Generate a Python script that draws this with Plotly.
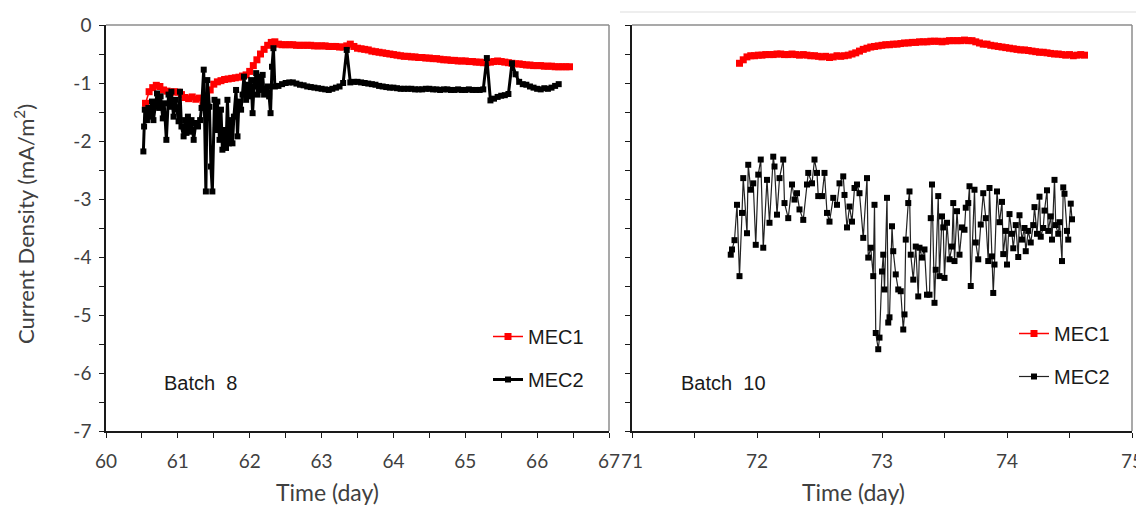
import plotly.graph_objects as go

# ---------------- data ----------------
# Batch 8 (left panel)
b8_mec1_t0, b8_mec1_dt = 60.55, 0.05
b8_mec1 = [-1.35, -1.15, -1.08, -1.04, -1.06, -1.12, -1.14, -1.16, -1.15, -1.16,
           -1.20, -1.25, -1.27, -1.24, -1.28, -1.26, -1.38, -1.22, -1.12, -1.02,
           -0.98, -0.96, -0.94, -0.93, -0.92, -0.91, -0.90, -0.88, -0.86, -0.80,
           -0.70, -0.60, -0.50, -0.42, -0.35, -0.30, -0.29, -0.33, -0.34, -0.34,
           -0.34, -0.34, -0.35, -0.35, -0.35, -0.35, -0.35, -0.36, -0.36, -0.36,
           -0.36, -0.37, -0.37, -0.37, -0.38, -0.38, -0.36, -0.33, -0.37, -0.40,
           -0.41, -0.42, -0.43, -0.45, -0.46, -0.47, -0.48, -0.49, -0.50, -0.51,
           -0.52, -0.53, -0.54, -0.54, -0.55, -0.55, -0.56, -0.56, -0.57, -0.57,
           -0.58, -0.58, -0.59, -0.60, -0.60, -0.61, -0.61, -0.62, -0.62, -0.62,
           -0.63, -0.63, -0.64, -0.64, -0.65, -0.65, -0.64, -0.63, -0.62, -0.63,
           -0.64, -0.65, -0.66, -0.67, -0.67, -0.68, -0.69, -0.69, -0.70, -0.70,
           -0.70, -0.71, -0.71, -0.71, -0.72, -0.72, -0.72, -0.72, -0.72]

b8_mec2_noisy_t = [60.52, 60.53, 60.54, 60.57, 60.59, 60.61, 60.64, 60.66, 60.68, 60.71,
                   60.74, 60.76, 60.79, 60.81, 60.84, 60.87, 60.89, 60.91, 60.94, 60.97,
                   61.01, 61.03, 61.05, 61.08, 61.10, 61.12, 61.14, 61.17, 61.19, 61.22,
                   61.25, 61.28, 61.31, 61.33, 61.36, 61.39, 61.41, 61.44, 61.46, 61.48,
                   61.51, 61.53, 61.55, 61.58, 61.60, 61.62, 61.65, 61.67, 61.69, 61.71,
                   61.74, 61.76, 61.78, 61.81, 61.83, 61.85, 61.88, 61.90, 61.92, 61.95,
                   61.97, 61.99, 62.02, 62.04, 62.06, 62.09, 62.11, 62.13, 62.16, 62.18,
                   62.20, 62.23, 62.25, 62.27, 62.29, 62.31, 62.33, 62.35]
b8_mec2_noisy = [-2.18, -1.75, -1.46, -1.64, -1.43, -1.58, -1.32, -1.64, -1.41, -1.18,
                 -1.43, -1.23, -1.61, -1.35, -1.98, -1.20, -1.41, -1.15, -1.58, -1.29,
                 -1.66, -1.15, -1.75, -1.92, -1.64, -1.86, -1.58, -1.84, -1.64, -1.98,
                 -1.69, -1.75, -1.64, -1.43, -0.77, -2.87, -0.95, -1.41, -2.44, -2.87,
                 -1.29, -1.81, -1.32, -1.98, -1.46, -2.15, -1.81, -2.12, -1.29, -2.04,
                 -1.64, -2.04, -1.58, -1.12, -1.92, -1.32, -1.46, -1.20, -0.89, -1.29,
                 -1.03, -1.23, -0.95, -1.52, -1.06, -0.83, -1.20, -0.89, -1.12, -0.86,
                 -1.20, -1.15, -1.06, -1.23, -1.52, -0.72, -0.40, -1.06]
b8_mec2_smooth_t0, b8_mec2_smooth_dt = 62.40, 0.05
b8_mec2_smooth = [-1.05, -1.02, -1.00, -0.99, -0.99, -1.01, -1.03, -1.04, -1.06, -1.07,
                  -1.08, -1.09, -1.10, -1.11, -1.12, -1.10, -1.08, -1.06, -1.00, -0.43,
                  -0.99, -0.98, -0.98, -0.99, -1.00, -1.01, -1.02, -1.03, -1.05, -1.06,
                  -1.07, -1.08, -1.08, -1.09, -1.10, -1.10, -1.10, -1.10, -1.11, -1.11,
                  -1.11, -1.10, -1.10, -1.11, -1.11, -1.12, -1.11, -1.11, -1.12, -1.12,
                  -1.11, -1.12, -1.12, -1.11, -1.12, -1.12, -1.12, -1.11, -0.57, -1.30,
                  -1.27, -1.24, -1.22, -1.21, -1.19, -0.66, -0.85, -0.98, -1.02, -1.03,
                  -1.06, -1.08, -1.10, -1.11, -1.09, -1.10, -1.08, -1.05, -1.02]

# Batch 10 (right panel)
b10_mec1_t0, b10_mec1_dt = 71.86, 0.03
b10_mec1 = [-0.66, -0.60, -0.55, -0.53, -0.53, -0.52, -0.52, -0.51, -0.51, -0.51,
            -0.50, -0.50, -0.51, -0.51, -0.50, -0.51, -0.52, -0.51, -0.52, -0.53,
            -0.53, -0.54, -0.55, -0.54, -0.56, -0.55, -0.53, -0.54, -0.53, -0.52,
            -0.50, -0.48, -0.45, -0.42, -0.40, -0.38, -0.37, -0.36, -0.35, -0.34,
            -0.34, -0.33, -0.33, -0.32, -0.31, -0.31, -0.30, -0.30, -0.29, -0.29,
            -0.29, -0.28, -0.28, -0.28, -0.29, -0.28, -0.27, -0.27, -0.27, -0.27,
            -0.26, -0.27, -0.27, -0.29, -0.31, -0.33, -0.33, -0.35, -0.36, -0.37,
            -0.38, -0.39, -0.40, -0.41, -0.42, -0.43, -0.43, -0.44, -0.45, -0.46,
            -0.47, -0.47, -0.48, -0.49, -0.50, -0.50, -0.51, -0.52, -0.51, -0.53,
            -0.52, -0.51, -0.52]

b10_mec2_t = [71.79, 71.80, 71.82, 71.84, 71.86, 71.88, 71.89, 71.92, 71.93, 71.95,
              71.97, 71.99, 72.01, 72.03, 72.05, 72.08, 72.10, 72.13, 72.14, 72.16,
              72.18, 72.21, 72.22, 72.25, 72.28, 72.30, 72.32, 72.34, 72.37, 72.40,
              72.41, 72.44, 72.46, 72.48, 72.49, 72.52, 72.54, 72.56, 72.58, 72.61,
              72.64, 72.66, 72.69, 72.70, 72.72, 72.74, 72.76, 72.78, 72.80, 72.82,
              72.85, 72.88, 72.89, 72.91, 72.93, 72.94, 72.95, 72.97, 72.98, 73.00,
              73.01, 73.02, 73.04, 73.05, 73.06, 73.08, 73.09, 73.11, 73.13, 73.15,
              73.17, 73.18, 73.19, 73.21, 73.22, 73.23, 73.25, 73.27, 73.29, 73.30,
              73.32, 73.34, 73.36, 73.38, 73.39, 73.40, 73.42, 73.43, 73.45, 73.46,
              73.48, 73.49, 73.50, 73.52, 73.54, 73.56, 73.57, 73.58, 73.60, 73.62,
              73.64, 73.66, 73.67, 73.69, 73.70, 73.71, 73.74, 73.75, 73.77, 73.79,
              73.81, 73.83, 73.85, 73.86, 73.88, 73.89, 73.90, 73.92, 73.94, 73.96,
              73.97, 73.99, 74.00, 74.02, 74.04, 74.05, 74.07, 74.09, 74.10, 74.12,
              74.14, 74.15, 74.17, 74.19, 74.21, 74.22, 74.24, 74.26, 74.27, 74.29,
              74.30, 74.32, 74.33, 74.35, 74.36, 74.38, 74.39, 74.41, 74.42, 74.44,
              74.45, 74.46, 74.48, 74.49, 74.51, 74.52]
b10_mec2 = [-3.96, -3.87, -3.71, -3.10, -4.33, -3.24, -2.64, -3.59, -2.41, -2.84,
            -2.73, -3.79, -2.58, -2.32, -3.84, -2.67, -3.41, -2.27, -2.44, -3.27,
            -2.64, -2.32, -3.07, -3.33, -2.75, -3.01, -2.90, -3.18, -3.36, -2.75,
            -2.55, -2.73, -2.32, -2.55, -2.95, -2.95, -2.55, -3.24, -3.39, -2.98,
            -3.10, -2.73, -2.61, -2.93, -3.49, -3.13, -3.39, -2.81, -2.75, -2.90,
            -3.67, -2.64, -4.01, -3.84, -4.33, -3.10, -5.31, -5.59, -5.39, -4.25,
            -3.96, -4.56, -2.98, -5.13, -5.04, -3.47, -3.90, -4.30, -4.56, -4.59,
            -5.25, -4.99, -3.70, -3.07, -2.87, -3.96, -4.39, -3.82, -4.68, -3.84,
            -4.01, -3.87, -4.65, -4.65, -3.33, -2.75, -4.79, -4.22, -2.95, -4.33,
            -3.30, -3.49, -4.36, -3.41, -4.04, -3.82, -3.07, -4.07, -3.21, -3.96,
            -3.49, -3.53, -3.15, -3.07, -2.78, -4.50, -2.84, -3.75, -4.04, -3.44,
            -2.90, -3.33, -4.07, -2.81, -3.99, -4.62, -4.13, -2.87, -3.40, -3.05,
            -3.95, -3.55, -4.13, -3.26, -3.60, -3.85, -3.45, -4.00, -3.28, -3.70,
            -3.50, -3.90, -3.55, -3.75, -3.45, -3.14, -3.60, -2.96, -3.65, -3.50,
            -3.20, -2.85, -3.55, -3.30, -3.70, -2.67, -3.45, -3.60, -3.40, -4.07,
            -2.80, -2.91, -3.55, -3.70, -3.08, -3.35]

x_ticks_left = [60, 61, 62, 63, 64, 65, 66, 67]
x_ticks_right = [71, 72, 73, 74, 75]
y_ticks = [0, -1, -2, -3, -4, -5, -6, -7]
y_ticktext = ["0", "-1", "-2", "-3", "-4", "-5", "-6", "-7"]

# ---------------- build series ----------------
b8_mec1_t = [round(b8_mec1_t0 + b8_mec1_dt * i, 3) for i in range(len(b8_mec1))]
b8_mec2_t = b8_mec2_noisy_t + [round(b8_mec2_smooth_t0 + b8_mec2_smooth_dt * i, 3)
                               for i in range(len(b8_mec2_smooth))]
b8_mec2 = b8_mec2_noisy + b8_mec2_smooth
b10_mec1_t = [round(b10_mec1_t0 + b10_mec1_dt * i, 3) for i in range(len(b10_mec1))]

# The page body has an 8 px margin, so the figure is 8 px smaller and every
# reference pixel position is shifted by 8 px.
OFF = 8
W, H = 1144 - OFF, 510 - OFF


def px(x):
    return (x - OFF) / W


def py(y):
    return 1 - (y - OFF) / H


L_PLOT = (px(106), px(609))
R_PLOT = (px(632), px(1132))
Y_DOM = (py(431), py(25))

RED = "#ff0000"
BLK = "#000000"
TICKFONT = dict(family="Lato, Open Sans, sans-serif", size=19, color="#404040")
TXTFONT = dict(family="Liberation Sans, Arial, sans-serif", size=20, color="#1a1a1a")
TITLEFONT = dict(family="Lato, Open Sans, sans-serif", size=23, color="#404040")
YTITLEFONT = dict(family="Lato, Open Sans, sans-serif", size=22, color="#404040")

fig = go.Figure()

fig.add_trace(go.Scatter(
    x=b8_mec1_t, y=b8_mec1, name="MEC1", mode="lines+markers",
    line=dict(color=RED, width=1.5), marker=dict(symbol="square", size=7, color=RED),
    xaxis="x", yaxis="y", legend="legend", legendgroup="a"))
fig.add_trace(go.Scatter(
    x=b8_mec2_t, y=b8_mec2, name="MEC2", mode="lines+markers",
    line=dict(color=BLK, width=3), marker=dict(symbol="square", size=6, color=BLK),
    xaxis="x", yaxis="y", legend="legend", legendgroup="b"))
fig.add_trace(go.Scatter(
    x=b10_mec1_t, y=b10_mec1, name="MEC1", mode="lines+markers",
    line=dict(color=RED, width=1.5), marker=dict(symbol="square", size=7, color=RED),
    xaxis="x2", yaxis="y2", legend="legend2", legendgroup="c"))
fig.add_trace(go.Scatter(
    x=b10_mec2_t, y=b10_mec2, name="MEC2", mode="lines+markers",
    line=dict(color="#222222", width=1.2), marker=dict(symbol="square", size=6, color=BLK),
    xaxis="x2", yaxis="y2", legend="legend2", legendgroup="d"))

axis_common = dict(
    showgrid=False, zeroline=False, showline=True, linecolor="#1a1a1a", linewidth=1.5,
    ticks="outside", ticklen=5, tickwidth=1.2, tickcolor="#1a1a1a",
    tickfont=TICKFONT, mirror=False, automargin=False,
)
minor_ticks = dict(ticks="outside", dtick=0.5, ticklen=5, tickwidth=1.2, tickcolor="#1a1a1a")

fig.update_layout(
    width=W, height=H,
    margin=dict(l=0, r=0, t=0, b=0, autoexpand=False),
    paper_bgcolor="white", plot_bgcolor="white",
    xaxis=dict(domain=L_PLOT, range=[60, 67], tickvals=x_ticks_left, minor=minor_ticks,
               anchor="y", ticklabelstandoff=7, **axis_common),
    yaxis=dict(domain=Y_DOM, range=[-7, 0], tickvals=y_ticks, ticktext=y_ticktext,
               minor=minor_ticks, anchor="x", ticklabelstandoff=4, **axis_common),
    xaxis2=dict(domain=R_PLOT, range=[71, 75], tickvals=x_ticks_right, minor=minor_ticks,
                anchor="y2", ticklabelstandoff=7, **axis_common),
    yaxis2=dict(domain=Y_DOM, range=[-7, 0], tickvals=y_ticks, showticklabels=False,
                minor=minor_ticks, anchor="x2", **axis_common),
    legend=dict(x=px(488), y=py(317), xanchor="left", yanchor="top",
                bgcolor="rgba(0,0,0,0)", font=TXTFONT, tracegroupgap=14,
                itemwidth=30),
    legend2=dict(x=px(1014), y=py(314), xanchor="left", yanchor="top",
                 bgcolor="rgba(0,0,0,0)", font=TXTFONT, tracegroupgap=14,
                 itemwidth=30),
    showlegend=True,
)

# frame lines (top and right) in grey
for xr, yr in (("x", "y"), ("x2", "y2")):
    fig.add_shape(type="line", xref=f"{xr} domain", yref=f"{yr} domain",
                  x0=0, x1=1, y0=1, y1=1, line=dict(color="#8c8c8c", width=1.5))
    fig.add_shape(type="line", xref=f"{xr} domain", yref=f"{yr} domain",
                  x0=1, x1=1, y0=0, y1=1, line=dict(color="#8c8c8c", width=1.5))
# faint separator line at the top of the right part of the page
fig.add_shape(type="line", xref="paper", yref="paper", x0=px(620), x1=1,
              y0=py(12), y1=py(12), line=dict(color="#dddddd", width=1))

# axis titles and batch labels
fig.add_annotation(text="Time (day)", x=px(327), y=py(492), xref="paper", yref="paper",
                   showarrow=False, font=TITLEFONT, xanchor="center", yanchor="middle")
fig.add_annotation(text="Time (day)", x=px(853), y=py(492), xref="paper", yref="paper",
                   showarrow=False, font=TITLEFONT, xanchor="center", yanchor="middle")
fig.add_annotation(text="Current Density (mA/m<sup>2</sup>)", x=px(24), y=py(224),
                   xref="paper", yref="paper", textangle=-90, showarrow=False,
                   font=YTITLEFONT, xanchor="center", yanchor="middle", borderpad=0)
fig.add_annotation(text="Batch  8", x=px(162), y=py(383), xref="paper", yref="paper",
                   showarrow=False, font=TXTFONT, xanchor="left", yanchor="middle")
fig.add_annotation(text="Batch  10", x=px(679), y=py(383), xref="paper", yref="paper",
                   showarrow=False, font=TXTFONT, xanchor="left", yanchor="middle")

fig.write_html("out.html")
